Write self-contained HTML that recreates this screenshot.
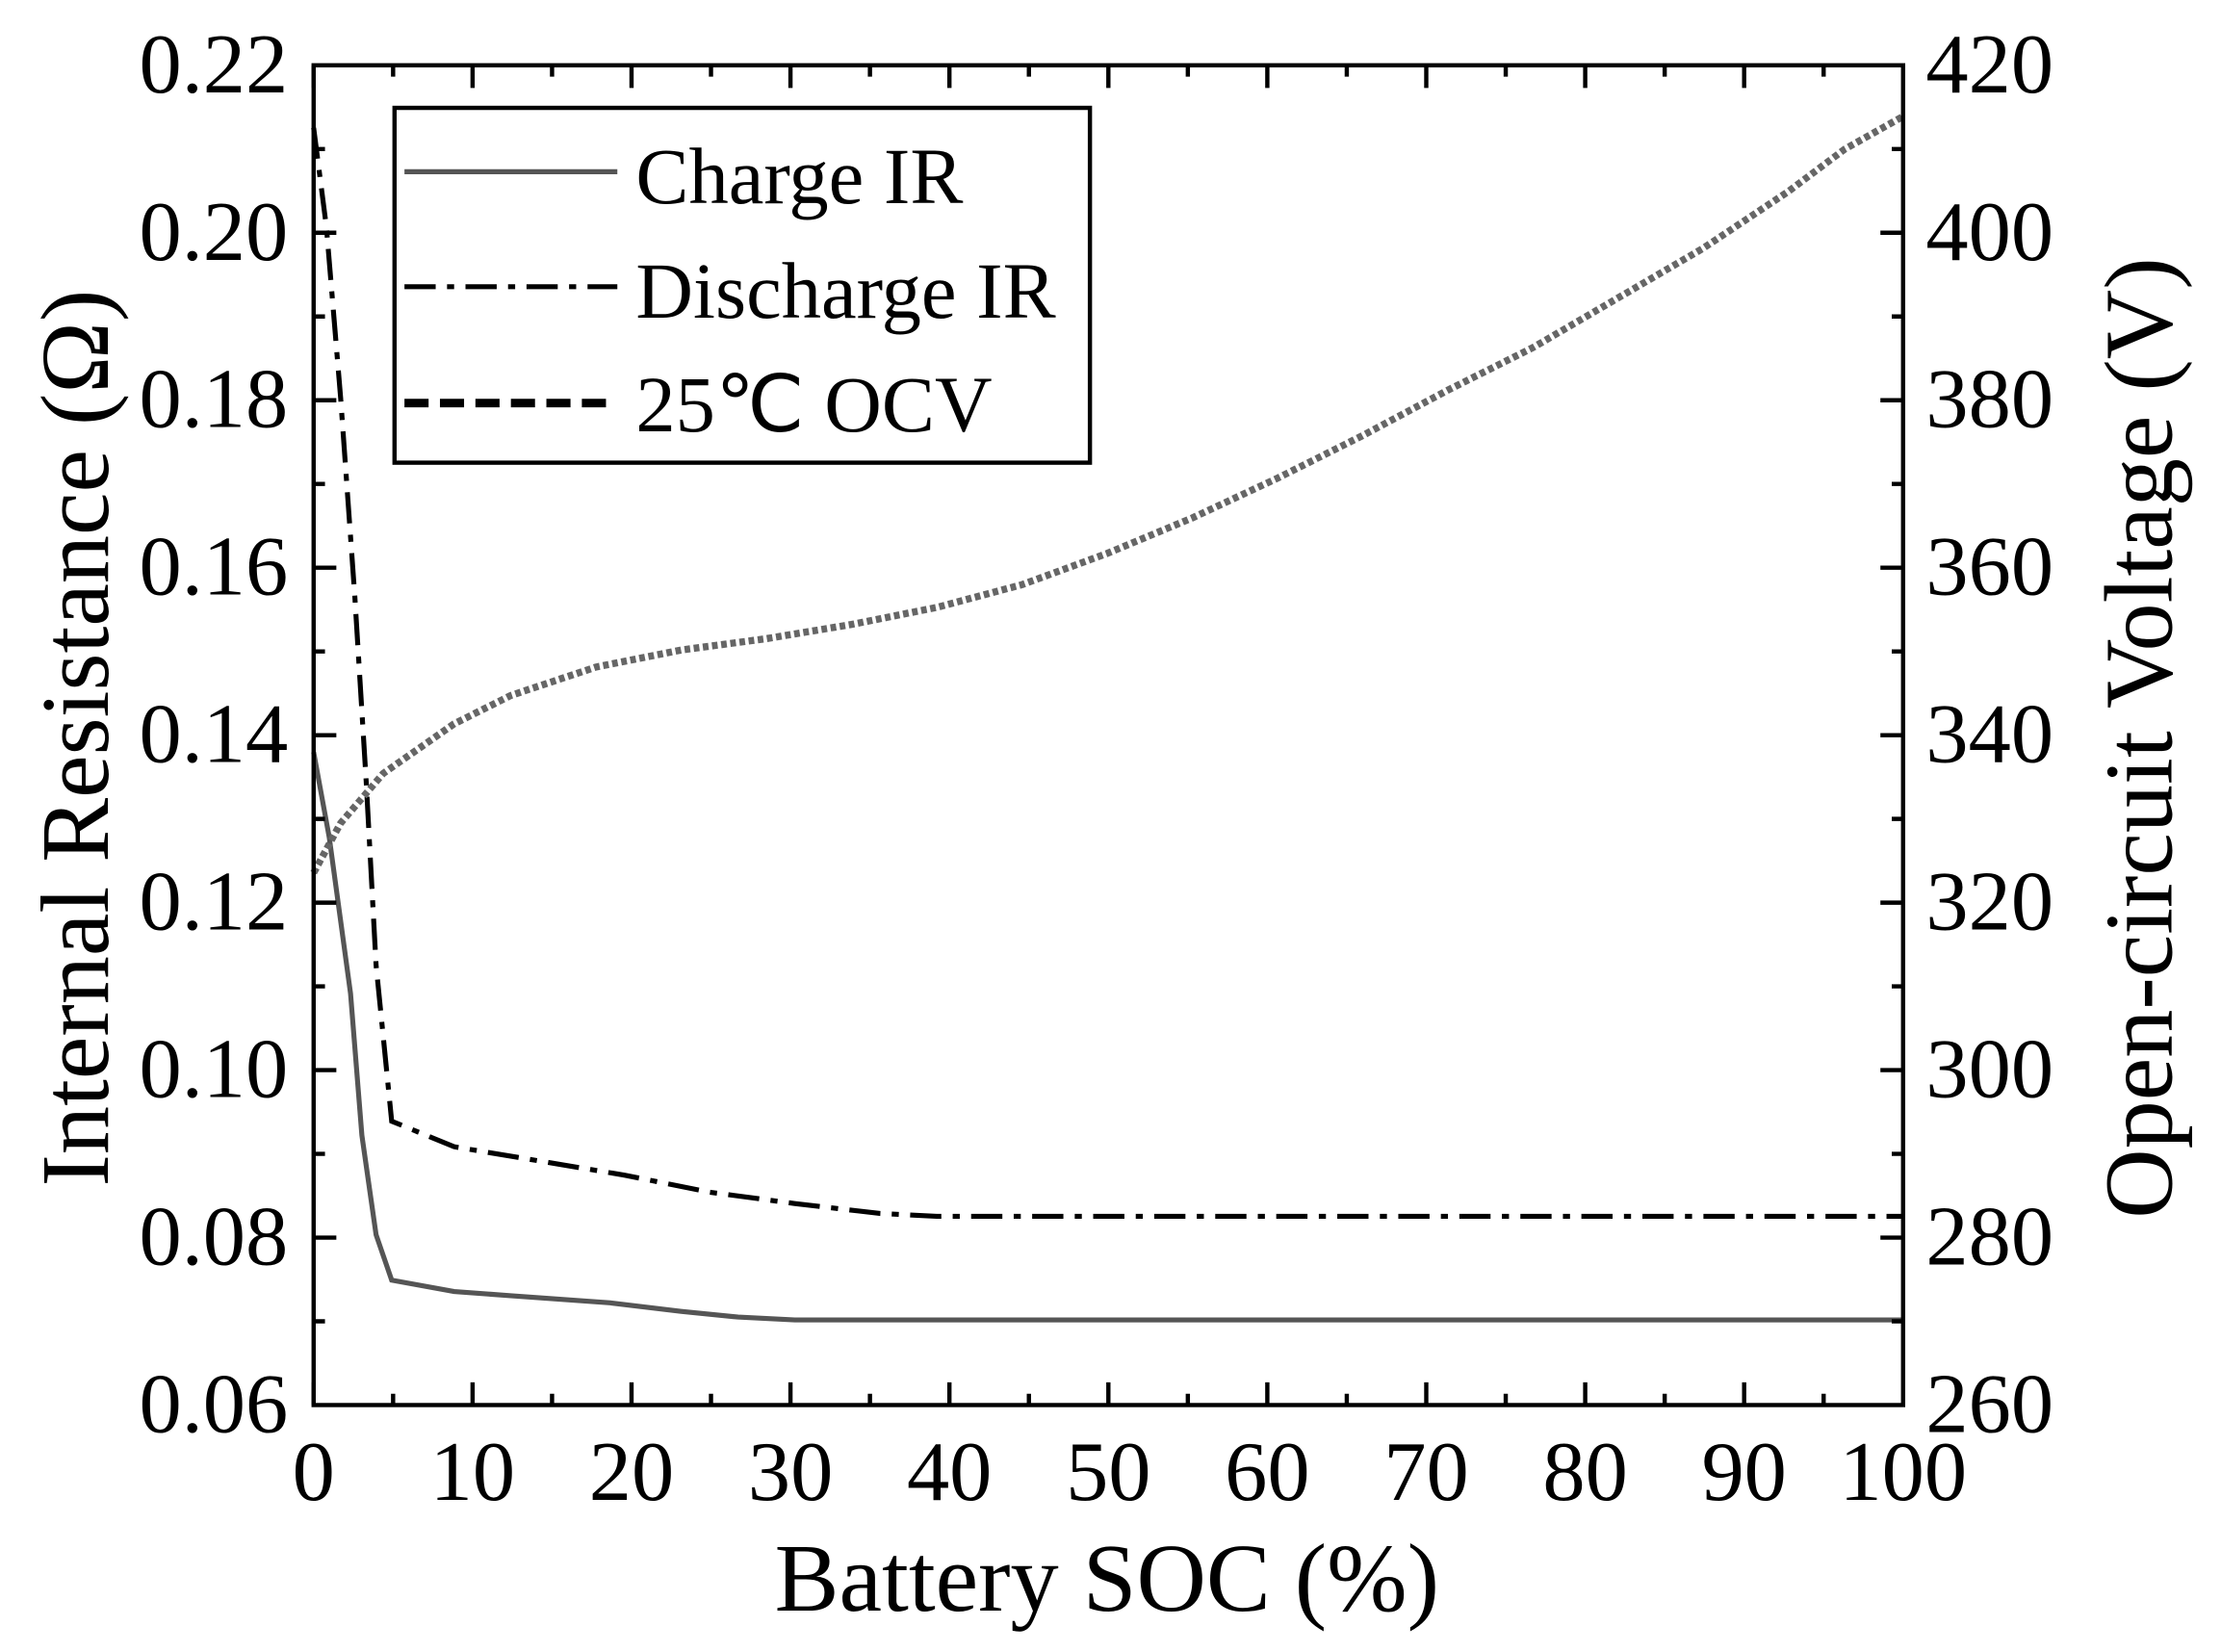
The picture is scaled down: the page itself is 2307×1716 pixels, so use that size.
<!DOCTYPE html>
<html><head><style>html,body{margin:0;padding:0;background:#fff;}svg{display:block;}</style></head><body>
<svg width="2307" height="1716" viewBox="0 0 1565 1164" preserveAspectRatio="none" xmlns="http://www.w3.org/2000/svg" font-family="'Liberation Serif', serif">
<rect width="1565" height="1164" fill="#fff"/>
<!-- series -->
<polyline fill="none" stroke="#555" stroke-width="3.5" points="221,530 232,590 247,700 255,800 265,870 276,902 320,910 360,913 430,918 480,924 520,928 560,930 1341,930"/>
<polyline fill="none" stroke="#000" stroke-width="3.5" stroke-dasharray="22,8,5,8" points="221,90 230,160 240,280 250,420 258,550 265,680 276,790 320,808 380,818 440,828 500,840 560,848 620,855 660,857 1341,857"/>
<polyline fill="none" stroke="#666" stroke-width="5" stroke-dasharray="4,2.5" points="221,615 240,580 270,545 320,510 360,490 420,470 480,458 540,450 600,440 660,428 720,412 780,390 840,365 900,337 960,307 1020,275 1080,245 1140,210 1200,175 1260,135 1300,105 1341,82"/>
<g stroke="#000" stroke-width="3" fill="none">
<rect x="221" y="46" width="1120" height="944"/>
<path d="M221,990v-16M277,990v-8M333,990v-16M389,990v-8M445,990v-16M501,990v-8M557,990v-16M613,990v-8M669,990v-16M725,990v-8M781,990v-16M837,990v-8M893,990v-16M949,990v-8M1005,990v-16M1061,990v-8M1117,990v-16M1173,990v-8M1229,990v-16M1285,990v-8
M221,46v16M277,46v8M333,46v16M389,46v8M445,46v16M501,46v8M557,46v16M613,46v8M669,46v16M725,46v8M781,46v16M837,46v8M893,46v16M949,46v8M1005,46v16M1061,46v8M1117,46v16M1173,46v8M1229,46v16M1285,46v8"/>
<path d="M221,164h16M221,282h16M221,400h16M221,518h16M221,636h16M221,754h16M221,872h16M221,105h8M221,223h8M221,341h8M221,459h8M221,577h8M221,695h8M221,813h8M221,931h8
M1341,164h-16M1341,282h-16M1341,400h-16M1341,518h-16M1341,636h-16M1341,754h-16M1341,872h-16M1341,105h-8M1341,223h-8M1341,341h-8M1341,459h-8M1341,577h-8M1341,695h-8M1341,813h-8M1341,931h-8"/>
</g>
<!-- legend -->
<rect x="278" y="76" width="490" height="250" fill="#fff" stroke="#000" stroke-width="3"/>
<line x1="285" y1="121" x2="435" y2="121" stroke="#555" stroke-width="3.5"/>
<line x1="285" y1="202" x2="435" y2="202" stroke="#000" stroke-width="3.5" stroke-dasharray="22,8,5,8"/>
<line x1="285" y1="284" x2="435" y2="284" stroke="#000" stroke-width="6" stroke-dasharray="17,8"/>
<g font-size="56" fill="#000">
<text x="448" y="143">Charge IR</text>
<text x="448" y="224">Discharge IR</text>
<text x="448" y="304">25℃ OCV</text>
</g>
<g font-size="60" fill="#000" text-anchor="end">
<text x="203" y="65">0.22</text><text x="203" y="183">0.20</text><text x="203" y="301">0.18</text><text x="203" y="419">0.16</text><text x="203" y="537">0.14</text><text x="203" y="655">0.12</text><text x="203" y="773">0.10</text><text x="203" y="891">0.08</text><text x="203" y="1009">0.06</text>
</g>
<g font-size="60" fill="#000" text-anchor="start">
<text x="1357" y="65">420</text><text x="1357" y="183">400</text><text x="1357" y="301">380</text><text x="1357" y="419">360</text><text x="1357" y="537">340</text><text x="1357" y="655">320</text><text x="1357" y="773">300</text><text x="1357" y="891">280</text><text x="1357" y="1009">260</text>
</g>
<g font-size="60" fill="#000" text-anchor="middle">
<text x="221" y="1057">0</text><text x="333" y="1057">10</text><text x="445" y="1057">20</text><text x="557" y="1057">30</text><text x="669" y="1057">40</text><text x="781" y="1057">50</text><text x="893" y="1057">60</text><text x="1005" y="1057">70</text><text x="1117" y="1057">80</text><text x="1229" y="1057">90</text><text x="1341" y="1057">100</text>
</g>
<g font-size="68" fill="#000" text-anchor="middle">
<text x="780" y="1135">Battery SOC (%)</text>
<text transform="translate(76,520) rotate(-90)">Internal Resistance (Ω)</text>
<text transform="translate(1530,520) rotate(-90)">Open-circuit Voltage (V)</text>
</g>
</svg>
</body></html>
